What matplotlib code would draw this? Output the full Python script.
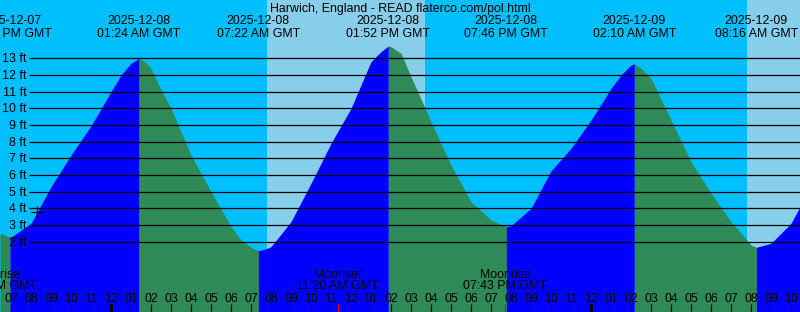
import matplotlib
matplotlib.use('Agg')
import matplotlib.pyplot as plt
import numpy as np

plt.rcParams['font.family'] = ['Liberation Sans', 'DejaVu Sans']
FS = 8.9

# time axis: hours after 2025-12-08 00:00 GMT
# tide height at each hour (ft)
hour_marks = list(range(-5, 35))
hour_ft = [2.27, 3.1, 5.3, 7.2, 8.95, 11.0, 12.7, 12.4, 10.0, 7.2,
           5.0, 2.9, 1.66, 1.7, 3.2, 5.5, 7.9, 10.0, 12.8, 13.7,
           11.9, 9.2, 6.6, 4.4, 3.3, 2.96, 4.0, 6.25, 7.6, 9.3,
           11.2, 12.6, 11.8, 9.3, 6.8, 4.9, 3.2, 1.8, 1.9, 3.1]
# a few extra readings around the turns
extra_hours = [0.5, 1.7, 2.5, 6.5, 7.7, 13.5, 14.5, 25.5, 26.5]
extra_ft = [12.0, 12.8, 11.1, 2.1, 1.55, 13.4, 13.3, 12.0, 12.4]
edge_hours = [-5.55, 34.45]
edge_ft = [2.5, 4.1]

# high / low water events
event_hours = [-5.05, 1.4, 7.367, 13.867, 19.767, 26.167, 32.267]
event_ft = [2.26, 13.0, 1.46, 13.74, 2.9, 12.66, 1.66]
event_dates = ['2025-12-07', '2025-12-08', '2025-12-08', '2025-12-08',
               '2025-12-08', '2025-12-09', '2025-12-09']
event_times = ['06:57 PM GMT', '01:24 AM GMT', '07:22 AM GMT', '01:52 PM GMT',
               '07:46 PM GMT', '02:10 AM GMT', '08:16 AM GMT']

# sun up / down
day_spans = [(7.78, 15.7), (31.8, 40.0)]

# moon
moon_hours = [-5.8, 11.333, 19.717]
moon_names = ['Moonrise', 'Moonset', 'Moonrise']
moon_times = ['06:12 PM GMT', '11:20 AM GMT', '07:43 PM GMT']

now_hour = -3.68
now_ft = 3.8

levels = list(range(2, 14))

W, H = 800, 312
x0, x1 = -5.55, 34.45
y0, y1 = -2.22, 16.5

fig = plt.figure(figsize=(8, 3.12), dpi=100)
ax = fig.add_axes([0, 0, 1, 1])
ax.set_xlim(x0, x1)
ax.set_ylim(y0, y1)
ax.axis('off')
fig.patch.set_facecolor('#00BFFF')
ax.axvspan(x0, x1, color='#00BFFF', zorder=0)
for a, b in day_spans:
    ax.axvspan(a, b, color='#87CEEB', lw=0, zorder=1)

t = np.array(hour_marks + extra_hours + edge_hours + event_hours, dtype=float)
v = np.array(hour_ft + extra_ft + edge_ft + event_ft, dtype=float)
order = np.argsort(t)
t, v = t[order], v[order]

bounds = [x0] + event_hours + [x1]
for a, b in zip(bounds[:-1], bounds[1:]):
    m = (t >= a - 1e-6) & (t <= b + 1e-6)
    ts, vs = t[m], v[m]
    col = '#0000FF' if vs[-1] > vs[0] else '#2E8B57'
    ax.fill_between(ts, y0, vs, color=col, lw=0, zorder=2)

# height lines
xl = (29 - 111) / 20
ax.hlines(levels, xl, x1, color='black', lw=0.9, zorder=3)
for lv in levels:
    ax.text((26.7 - 111) / 20, lv - 0.25, f'{lv} ft', ha='right', va='baseline',
            fontsize=FS, zorder=4)

ax.plot([now_hour], [now_ft], marker='+', ms=8, mew=0.9, color='black', zorder=5)

xt = ax.get_xaxis_transform()


def fy(py):
    return 1 - py / H


ax.text(0.5, fy(11.7), 'Harwich, England - READ flaterco.com/pol.html',
        transform=ax.transAxes, ha='center', va='baseline', fontsize=FS, zorder=6)
for h, d, tm in zip(event_hours, event_dates, event_times):
    ax.text(h, fy(24.3), d, transform=xt, ha='center', va='baseline', fontsize=FS, zorder=6)
    ax.text(h, fy(36.7), tm, transform=xt, ha='center', va='baseline', fontsize=FS, zorder=6)

# hour ticks along the bottom
for h in hour_marks:
    lab = f'{(h % 12) or 12:02d}'
    ax.text(h, fy(302), lab, transform=xt, ha='center', va='baseline', fontsize=FS, zorder=6)
    lw = 2.2 if h % 24 == 0 else 0.8
    ax.vlines(h, 0, fy(304), transform=xt, color='black', lw=lw, zorder=6)

for h, n, tm in zip(moon_hours, moon_names, moon_times):
    ax.text(h, fy(278), n, transform=xt, ha='center', va='baseline', fontsize=FS, zorder=6)
    ax.text(h, fy(289.3), tm, transform=xt, ha='center', va='baseline', fontsize=FS, zorder=6)
    ax.vlines(h, 0, fy(304), transform=xt, color='red', lw=0.8, zorder=6)

fig.savefig('out.png', dpi=100)
